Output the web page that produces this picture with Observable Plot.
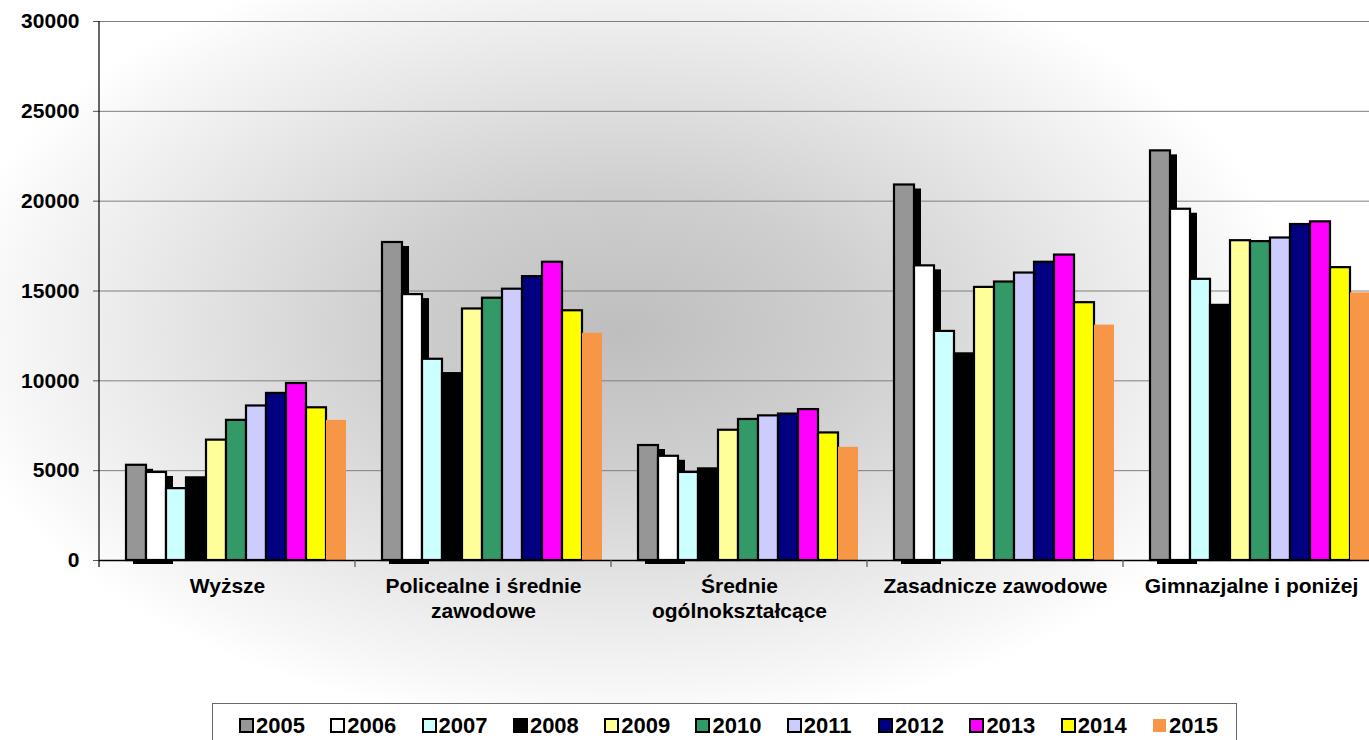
<!DOCTYPE html>
<html>
<head>
<meta charset="utf-8">
<script src="https://cdn.jsdelivr.net/npm/d3@7"></script>
<script src="https://cdn.jsdelivr.net/npm/@observablehq/plot@0.6"></script>
<style>
html, body { margin: 0; padding: 0; }
body {
  width: 1369px; height: 740px; overflow: hidden; position: relative;
  background: radial-gradient(ellipse 680px 400px at 620px 330px, #bebebe 0%, #cfcfcf 35%, #e5e5e5 65%, #f7f7f7 90%, #ffffff 100%);
  font-family: "Liberation Sans", Arial, sans-serif;
}
#chart { position: absolute; left: 0; top: 0; }
#legend {
  position: absolute; left: 212px; top: 703px; width: 1025px; height: 60px;
  border: 1px solid #6a6a6a; background: #ffffff; box-sizing: border-box;
}
#legend .lg-swatches {
  margin: 0; padding: 5px 0 0 27px; font-family: "Liberation Sans", Arial, sans-serif;
  font-size: 22px; font-weight: bold; color: #000; display: flex; flex-wrap: nowrap;
}
#legend .lg-swatch { width: 91.3px; margin: 0; flex: none; display: inline-flex; align-items: center; }
#legend .lg-swatch > svg { margin-right: 3px; overflow: visible; }
#legend .lg-swatch rect { stroke: #000; stroke-width: 2px; }
#legend .lg-swatch:last-child rect { stroke: none; }
</style>
</head>
<body>
<div id="chart"></div>
<div id="legend"></div>
<script>
// Categories (education level) and their axis labels
const categories = ["Wyższe", "Policealne i średnie zawodowe", "Średnie ogólnokształcące", "Zasadnicze zawodowe", "Gimnazjalne i poniżej"];
const categoryLabels = ["Wyższe", "Policealne i średnie\nzawodowe", "Średnie\nogólnokształcące", "Zasadnicze zawodowe", "Gimnazjalne i poniżej"];

// Series: one array per year, values per category
const years = ["2005", "2006", "2007", "2008", "2009", "2010", "2011", "2012", "2013", "2014", "2015"];
const v2005 = [5300, 17700, 6400, 20900, 22800];
const v2006 = [4900, 14800, 5800, 16400, 19550];
const v2007 = [4000, 11200, 4900, 12750, 15650];
const v2008 = [4600, 10400, 5100, 11500, 14200];
const v2009 = [6700, 14000, 7250, 15200, 17800];
const v2010 = [7800, 14600, 7850, 15500, 17750];
const v2011 = [8600, 15100, 8050, 16000, 17950];
const v2012 = [9300, 15800, 8150, 16600, 18700];
const v2013 = [9850, 16600, 8400, 17000, 18850];
const v2014 = [8500, 13900, 7100, 14350, 16300];
const v2015 = [7800, 12650, 6300, 13100, 14900];
const seriesValues = [v2005, v2006, v2007, v2008, v2009, v2010, v2011, v2012, v2013, v2014, v2015];

const colors = ["#969696", "#ffffff", "#ccffff", "#000000", "#ffff99", "#339966", "#ccccff", "#000080", "#ff00ff", "#ffff00", "#f79646"];
const yTicks = [0, 5000, 10000, 15000, 20000, 25000, 30000];
const shadowYears = ["2005", "2006"];
const unframedYears = ["2015"];

const rows = [];
years.forEach((year, j) => {
  categories.forEach((category, i) => {
    rows.push({category, year, value: seriesValues[j][i]});
  });
});

const plot = Plot.plot({
  width: 1369,
  height: 690,
  marginLeft: 97,
  marginRight: -11,
  marginTop: 21,
  marginBottom: 130,
  style: {background: "transparent", fontFamily: "'Liberation Sans', Arial, sans-serif", fontWeight: "bold", color: "#000", overflow: "visible"},
  fx: {domain: categories, paddingInner: 0, paddingOuter: 0, axis: null, label: null},
  x: {domain: years, paddingInner: 0, paddingOuter: 0.85, align: 0.74, axis: null},
  y: {domain: [0, 30000], axis: null},
  color: {domain: years, range: colors},
  marks: [
    Plot.gridY(yTicks, {stroke: "#7f7f7f", strokeOpacity: 1, strokeWidth: 1}),
    Plot.barY(rows.filter(d => shadowYears.includes(d.year)), {fx: "category", x: "year", y: "value", fill: "#000", dx: 7, dy: 4}),
    Plot.barY(rows.filter(d => !unframedYears.includes(d.year)), {fx: "category", x: "year", y: "value", fill: "year", stroke: "#000", strokeWidth: 2.2}),
    Plot.barY(rows.filter(d => unframedYears.includes(d.year)), {fx: "category", x: "year", y: "value", fill: "year"}),
    Plot.ruleY([0], {stroke: "#000", strokeWidth: 1.5}),
    Plot.axisY(yTicks, {anchor: "left", tickSize: 6, tickPadding: 14, fontSize: 21, fontWeight: "bold", stroke: "#555", tickFormat: d => String(d), label: null}),
    Plot.axisFx({anchor: "bottom", tickSize: 0, tickPadding: 15, fontSize: 21, fontWeight: "bold", lineHeight: 1.19, label: null,
      tickFormat: d => categoryLabels[categories.indexOf(d)]})
  ]
});

// Value axis line and category separator ticks, positioned from Plot's own scales
const fxScale = plot.scale("fx");
const yScale = plot.scale("y");
const svg = d3.select(plot);
const gAxis = svg.append("g").attr("stroke", "#000").attr("stroke-width", 1.2);
const xStart = fxScale.apply(categories[0]);
const y0 = yScale.apply(0);
gAxis.append("line").attr("x1", xStart).attr("x2", xStart).attr("y1", yScale.apply(30000)).attr("y2", y0 + 7);
categories.slice(1).forEach(c => {
  const xb = fxScale.apply(c);
  gAxis.append("line").attr("x1", xb).attr("x2", xb).attr("y1", y0).attr("y2", y0 + 7).attr("stroke", "#555");
});

document.getElementById("chart").appendChild(plot);

const legend = Plot.legend({color: {domain: years, range: colors}, className: "lg", swatchSize: 13});
document.getElementById("legend").appendChild(legend);
</script>
</body>
</html>
